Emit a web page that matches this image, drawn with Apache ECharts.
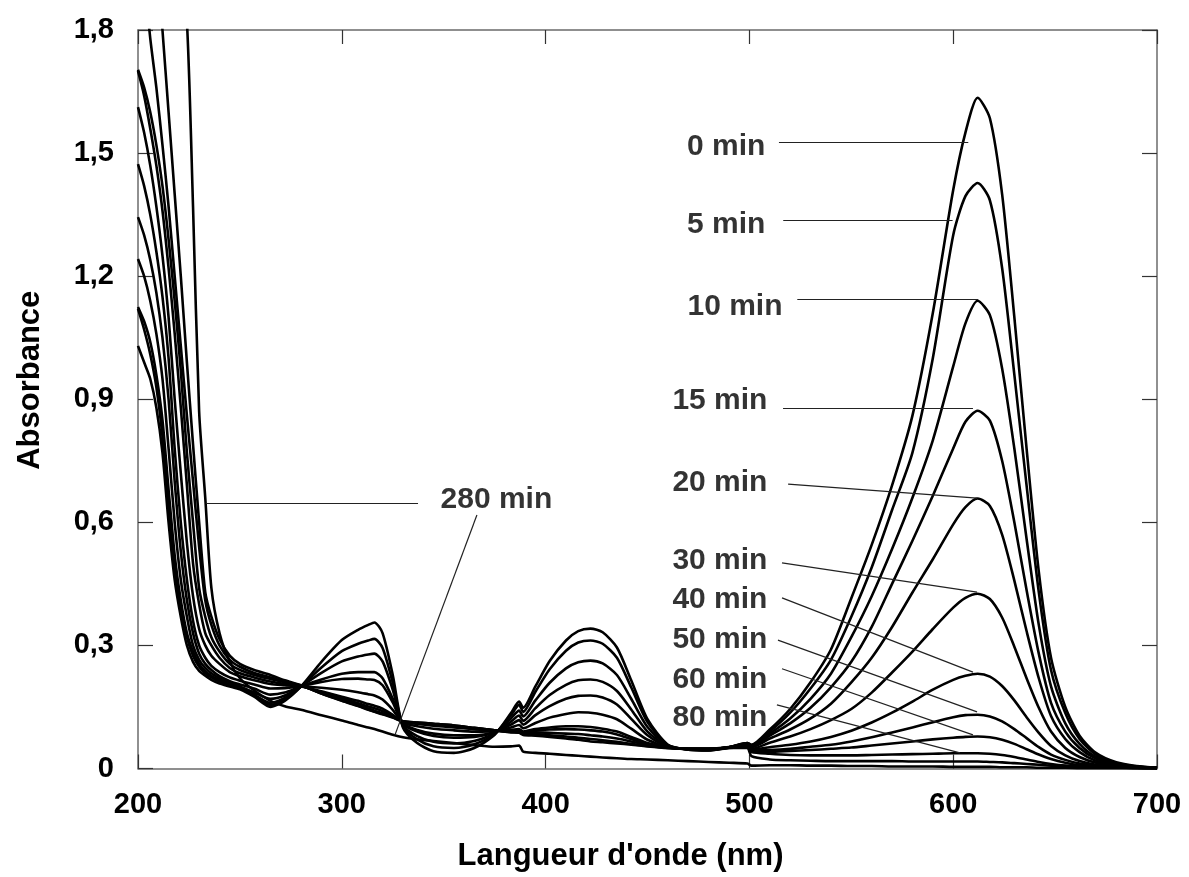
<!DOCTYPE html>
<html>
<head>
<meta charset="utf-8">
<script src="https://cdn.jsdelivr.net/npm/echarts@6.0.0/dist/echarts.min.js"></script>
<style>
  html, body { margin: 0; padding: 0; background: #ffffff; }
  #chart { width: 1189px; height: 877px; }
</style>
</head>
<body>
<div id="chart"></div>
<script>
// longueurs d'onde communes (nm)
const wavelengths = [
  200, 203, 206, 209, 212, 215, 218, 221, 224, 227,
  230, 233, 236, 240, 245, 250, 257, 265, 272, 280,
  290, 300, 308, 313, 316, 320, 325, 330, 337, 345,
  355, 365, 375, 383, 387, 389, 395, 402, 410, 416,
  422, 428, 435, 442, 450, 460, 470, 480, 490, 499,
  501, 510, 520, 530, 540, 550, 560, 570, 580, 590,
  600, 606, 612, 618, 624, 630, 636, 642, 648, 655,
  662, 670, 680, 690, 700
];

// absorbance lue sur chaque spectre
const abs0min = [
  2.6, 2.4, 2.2, 2.0, 1.8, 1.6, 1.4, 1.2, 0.99, 0.79,
  0.6, 0.43, 0.37, 0.315, 0.275, 0.255, 0.24, 0.228, 0.215, 0.203,
  0.183, 0.165, 0.152, 0.143, 0.138, 0.132, 0.124, 0.115, 0.112, 0.109,
  0.105, 0.099, 0.093, 0.088, 0.087, 0.082, 0.08, 0.077, 0.073, 0.07,
  0.066, 0.064, 0.061, 0.058, 0.054, 0.05, 0.048, 0.048, 0.052, 0.062,
  0.058, 0.095, 0.145, 0.21, 0.29, 0.415, 0.545, 0.69, 0.86, 1.11,
  1.41, 1.55, 1.635, 1.585, 1.40, 1.10, 0.78, 0.48, 0.27, 0.15,
  0.08, 0.038, 0.015, 0.006, 0.002
];
const abs5min = [
  2.1, 1.93, 1.78, 1.66, 1.52, 1.37, 1.2, 1.03, 0.86, 0.7,
  0.54, 0.41, 0.35, 0.3, 0.265, 0.248, 0.233, 0.222, 0.212, 0.202,
  0.183, 0.166, 0.153, 0.144, 0.139, 0.133, 0.125, 0.115, 0.112, 0.109,
  0.105, 0.099, 0.093, 0.089, 0.088, 0.084, 0.084, 0.081, 0.078, 0.075,
  0.072, 0.069, 0.065, 0.06, 0.055, 0.05, 0.048, 0.048, 0.052, 0.062,
  0.057, 0.09, 0.136, 0.195, 0.265, 0.37, 0.49, 0.63, 0.77, 1.0,
  1.30, 1.395, 1.427, 1.385, 1.22, 0.96, 0.69, 0.43, 0.24, 0.135,
  0.072, 0.034, 0.013, 0.005, 0.002
];
const abs10min = [
  1.703, 1.66, 1.6, 1.52, 1.42, 1.29, 1.14, 0.97, 0.77, 0.6,
  0.44, 0.37, 0.32, 0.285, 0.255, 0.24, 0.228, 0.218, 0.21, 0.202,
  0.184, 0.167, 0.155, 0.146, 0.141, 0.135, 0.126, 0.115, 0.111, 0.108,
  0.104, 0.098, 0.093, 0.09, 0.091, 0.086, 0.088, 0.087, 0.085, 0.084,
  0.081, 0.078, 0.073, 0.066, 0.057, 0.05, 0.048, 0.048, 0.052, 0.061,
  0.056, 0.085, 0.122, 0.17, 0.231, 0.32, 0.42, 0.535, 0.66, 0.8,
  0.98, 1.085, 1.14, 1.105, 0.975, 0.78, 0.56, 0.35, 0.2, 0.11,
  0.06, 0.028, 0.011, 0.004, 0.002
];
const abs15min = [
  1.70, 1.64, 1.56, 1.47, 1.36, 1.22, 1.06, 0.88, 0.69, 0.5,
  0.4, 0.33, 0.3, 0.27, 0.245, 0.232, 0.222, 0.212, 0.206, 0.201,
  0.186, 0.171, 0.159, 0.151, 0.147, 0.14, 0.128, 0.114, 0.11, 0.106,
  0.102, 0.097, 0.093, 0.092, 0.094, 0.088, 0.093, 0.095, 0.096, 0.095,
  0.093, 0.09, 0.083, 0.072, 0.06, 0.051, 0.048, 0.048, 0.052, 0.06,
  0.054, 0.08, 0.11, 0.148, 0.198, 0.26, 0.345, 0.45, 0.555, 0.665,
  0.78, 0.845, 0.872, 0.848, 0.75, 0.6, 0.435, 0.28, 0.16, 0.09,
  0.05, 0.024, 0.01, 0.004, 0.002
];
const abs20min = [
  1.612, 1.55, 1.47, 1.37, 1.25, 1.1, 0.9, 0.72, 0.55, 0.42,
  0.34, 0.3, 0.275, 0.255, 0.235, 0.225, 0.215, 0.206, 0.203, 0.2,
  0.188, 0.175, 0.165, 0.157, 0.153, 0.146, 0.131, 0.114, 0.109, 0.104,
  0.1, 0.096, 0.092, 0.094, 0.096, 0.09, 0.096, 0.1, 0.103, 0.103,
  0.101, 0.097, 0.09, 0.077, 0.062, 0.051, 0.048, 0.048, 0.052, 0.059,
  0.052, 0.073, 0.095, 0.122, 0.158, 0.21, 0.27, 0.345, 0.429, 0.51,
  0.595, 0.637, 0.658, 0.64, 0.57, 0.458, 0.335, 0.22, 0.128, 0.072,
  0.04, 0.019, 0.008, 0.003, 0.002
];
const abs30min = [
  1.473, 1.42, 1.35, 1.26, 1.15, 1.0, 0.78, 0.6, 0.46, 0.36,
  0.3, 0.27, 0.25, 0.235, 0.222, 0.214, 0.205, 0.195, 0.196, 0.2,
  0.197, 0.192, 0.186, 0.181, 0.178, 0.168, 0.143, 0.112, 0.103, 0.097,
  0.093, 0.09, 0.091, 0.1, 0.106, 0.098, 0.111, 0.124, 0.133, 0.137,
  0.136, 0.131, 0.12, 0.097, 0.07, 0.052, 0.048, 0.047, 0.051, 0.057,
  0.048, 0.063, 0.078, 0.096, 0.118, 0.145, 0.185, 0.234, 0.285, 0.34,
  0.392, 0.416, 0.426, 0.413, 0.368, 0.297, 0.22, 0.148, 0.09, 0.05,
  0.028, 0.014, 0.006, 0.003, 0.002
];
const abs40min = [
  1.344, 1.3, 1.24, 1.16, 1.05, 0.9, 0.7, 0.53, 0.41, 0.33,
  0.28, 0.255, 0.24, 0.225, 0.213, 0.205, 0.195, 0.18, 0.185, 0.2,
  0.211, 0.218, 0.219, 0.217, 0.216, 0.203, 0.161, 0.11, 0.094, 0.085,
  0.081, 0.081, 0.089, 0.107, 0.118, 0.107, 0.13, 0.152, 0.17, 0.177,
  0.178, 0.173, 0.156, 0.121, 0.081, 0.053, 0.047, 0.046, 0.051, 0.056,
  0.046, 0.052, 0.058, 0.066, 0.077, 0.092, 0.112, 0.136, 0.163, 0.192,
  0.216, 0.226, 0.231, 0.224, 0.201, 0.166, 0.125, 0.087, 0.055, 0.032,
  0.018, 0.009, 0.004, 0.002, 0.001
];
const abs50min = [
  1.242, 1.2, 1.14, 1.06, 0.95, 0.78, 0.6, 0.46, 0.37, 0.3,
  0.265, 0.245, 0.232, 0.22, 0.21, 0.2, 0.185, 0.17, 0.178, 0.2,
  0.217, 0.231, 0.235, 0.235, 0.235, 0.22, 0.17, 0.108, 0.09, 0.079,
  0.075, 0.077, 0.088, 0.114, 0.129, 0.116, 0.147, 0.179, 0.204, 0.215,
  0.217, 0.211, 0.189, 0.144, 0.09, 0.054, 0.047, 0.046, 0.051, 0.055,
  0.044, 0.045, 0.048, 0.053, 0.058, 0.066, 0.076, 0.088, 0.1, 0.113,
  0.125, 0.13, 0.131, 0.127, 0.115, 0.096, 0.074, 0.052, 0.034, 0.021,
  0.012, 0.007, 0.003, 0.002, 0.001
];
const abs60min = [
  1.125, 1.09, 1.04, 0.96, 0.85, 0.68, 0.52, 0.41, 0.33, 0.285,
  0.255, 0.237, 0.226, 0.215, 0.205, 0.198, 0.18, 0.16, 0.172, 0.2,
  0.233, 0.261, 0.273, 0.278, 0.28, 0.261, 0.192, 0.105, 0.079, 0.065,
  0.061, 0.067, 0.086, 0.122, 0.141, 0.127, 0.166, 0.209, 0.244, 0.259,
  0.263, 0.256, 0.228, 0.17, 0.101, 0.056, 0.047, 0.045, 0.051, 0.054,
  0.042, 0.041, 0.043, 0.045, 0.048, 0.051, 0.056, 0.061, 0.066, 0.071,
  0.075, 0.077, 0.078, 0.076, 0.07, 0.06, 0.047, 0.034, 0.023, 0.014,
  0.008, 0.005, 0.003, 0.002, 0.001
];
const abs80min = [
  1.12, 1.07, 1.01, 0.93, 0.81, 0.64, 0.49, 0.39, 0.32, 0.275,
  0.248, 0.232, 0.222, 0.212, 0.203, 0.196, 0.177, 0.155, 0.168, 0.2,
  0.246, 0.286, 0.304, 0.312, 0.316, 0.294, 0.209, 0.103, 0.071, 0.054,
  0.05, 0.059, 0.084, 0.13, 0.155, 0.138, 0.187, 0.242, 0.287, 0.307,
  0.312, 0.304, 0.27, 0.198, 0.113, 0.057, 0.046, 0.044, 0.05, 0.052,
  0.04, 0.036, 0.033, 0.032, 0.032, 0.032, 0.033, 0.034, 0.035, 0.036,
  0.037, 0.037, 0.037, 0.036, 0.033, 0.028, 0.022, 0.016, 0.011, 0.007,
  0.005, 0.003, 0.002, 0.001, 0.001
];
// spectre sans étiquette, entre 80 et 280 min
const absUnlabeled = [
  1.03, 0.99, 0.95, 0.88, 0.77, 0.6, 0.46, 0.37, 0.3, 0.26,
  0.238, 0.226, 0.216, 0.207, 0.2, 0.193, 0.175, 0.15, 0.165, 0.2,
  0.26, 0.313, 0.338, 0.35, 0.356, 0.33, 0.228, 0.1, 0.062, 0.042,
  0.038, 0.05, 0.082, 0.135, 0.163, 0.148, 0.2, 0.262, 0.312, 0.335,
  0.341, 0.332, 0.295, 0.215, 0.12, 0.058, 0.046, 0.044, 0.05, 0.05,
  0.03, 0.022, 0.02, 0.019, 0.018, 0.018, 0.018, 0.018, 0.017, 0.017,
  0.017, 0.017, 0.017, 0.016, 0.015, 0.013, 0.011, 0.009, 0.007, 0.006,
  0.005, 0.004, 0.003, 0.002, 0.001
];
const abs280min = [
  3.0, 2.8, 2.6, 2.45, 2.3, 2.15, 2.02, 1.92, 1.82, 1.37,
  0.87, 0.66, 0.44, 0.33, 0.26, 0.22, 0.19, 0.165, 0.152, 0.143,
  0.13, 0.117, 0.106, 0.1, 0.096, 0.09, 0.082, 0.076, 0.071, 0.067,
  0.062, 0.057, 0.053, 0.054, 0.056, 0.041, 0.038, 0.036, 0.033, 0.031,
  0.029, 0.027, 0.025, 0.023, 0.022, 0.02, 0.018, 0.016, 0.014, 0.012,
  0.007, 0.008, 0.008, 0.007, 0.007, 0.006, 0.006, 0.005, 0.005, 0.005,
  0.004, 0.004, 0.004, 0.004, 0.003, 0.003, 0.003, 0.002, 0.002, 0.002,
  0.001, 0.001, 0.001, 0, 0
];

const xTicks = [200, 300, 400, 500, 600, 700];
const yTicks = [0, 0.3, 0.6, 0.9, 1.2, 1.5, 1.8];

// étiquettes des temps (bord droit du texte, en coordonnées des données)
const timeLabels = ['0 min', '5 min', '10 min', '15 min', '20 min', '30 min', '40 min', '50 min', '60 min', '80 min'];
const timeLabelAnchors = [
  [508.1, 1.515], [508.1, 1.325], [516.5, 1.126], [509.1, 0.896], [509.1, 0.696],
  [509.1, 0.506], [509.1, 0.411], [509.1, 0.313], [509.1, 0.216], [509.1, 0.123]
];
const leaderStarts = [
  [514.5, 1.527], [516.6, 1.337], [523.5, 1.144], [516.5, 0.879], [519, 0.693],
  [516, 0.501], [516, 0.416], [514, 0.313], [516, 0.243], [513.5, 0.155]
];
const leaderEnds = [
  [607.4, 1.527], [599.7, 1.337], [612.3, 1.144], [609.7, 0.879], [611.7, 0.659],
  [611.7, 0.430], [609.7, 0.235], [611.7, 0.138], [609.7, 0.082], [603.3, 0.038]
];
const lateLabel = '280 min';
const lateLabelAnchor = [348.2, 0.654];
const lateLeaders = [
  [[233.4, 0.647], [337.4, 0.647]],
  [[366.3, 0.618], [326.1, 0.082]]
];

const FONT = 'Liberation Sans';
const AXIS_GRAY = '#6b6b6b';

const curves = [
  ['0 min', abs0min], ['5 min', abs5min], ['10 min', abs10min], ['15 min', abs15min],
  ['20 min', abs20min], ['30 min', abs30min], ['40 min', abs40min], ['50 min', abs50min],
  ['60 min', abs60min], ['80 min', abs80min], ['sans étiquette', absUnlabeled], ['280 min', abs280min]
];

const chart = echarts.init(document.getElementById('chart'), null, { renderer: 'canvas' });

const spectraSeries = curves.map(([name, values]) => ({
  name: name,
  type: 'line',
  data: wavelengths.map((w, i) => [w, values[i]]),
  symbol: 'none',
  smooth: 0.25,
  clip: true,
  silent: true,
  lineStyle: { color: '#000000', width: 2.6, join: 'round' }
}));

const leaderPairs = leaderStarts.map((s, i) => [{ coord: s }, { coord: leaderEnds[i] }])
  .concat(lateLeaders.map(p => [{ coord: p[0] }, { coord: p[1] }]));

const labelSeries = {
  name: 'étiquettes',
  type: 'scatter',
  symbolSize: 1,
  itemStyle: { color: 'rgba(0,0,0,0)' },
  silent: true,
  data: timeLabels.map((t, i) => ({
    value: timeLabelAnchors[i],
    label: { position: 'left', formatter: t }
  })).concat([{
    value: lateLabelAnchor,
    label: { position: 'right', formatter: lateLabel }
  }]),
  label: {
    show: true,
    distance: 0,
    color: '#000000',
    fontFamily: FONT,
    fontWeight: 'bold',
    fontSize: 30
  },
  markLine: {
    silent: true,
    symbol: ['none', 'none'],
    label: { show: false },
    lineStyle: { color: '#222222', width: 1.2, type: 'solid' },
    data: leaderPairs
  }
};

const tickFormatter = v => (v === 0 ? '0' : v.toFixed(1).replace('.', ','));

const option = {
  animation: false,
  backgroundColor: '#ffffff',
  grid: { left: 138, right: 32, top: 30, bottom: 108.5, containLabel: false },
  xAxis: [
    {
      type: 'value', min: xTicks[0], max: xTicks[xTicks.length - 1], interval: 100,
      position: 'bottom',
      axisLine: { show: true, onZero: false, lineStyle: { color: AXIS_GRAY, width: 1.5 } },
      axisTick: { show: true, inside: true, length: 14, lineStyle: { color: '#333333', width: 1.2 } },
      splitLine: { show: false },
      axisLabel: { color: '#000', fontFamily: FONT, fontWeight: 'bold', fontSize: 29, margin: 22 },
      name: "Langueur d'onde (nm)",
      nameLocation: 'middle',
      nameGap: 72,
      nameTextStyle: { color: '#000', fontFamily: FONT, fontWeight: 'bold', fontSize: 31, padding: [0, 54, 0, 0] }
    },
    {
      type: 'value', min: xTicks[0], max: xTicks[xTicks.length - 1], interval: 100,
      position: 'top',
      axisLine: { show: true, onZero: false, lineStyle: { color: AXIS_GRAY, width: 1.5 } },
      axisTick: { show: true, inside: true, length: 14, lineStyle: { color: '#333333', width: 1.2 } },
      splitLine: { show: false },
      axisLabel: { show: false }
    }
  ],
  yAxis: [
    {
      type: 'value', min: yTicks[0], max: yTicks[yTicks.length - 1], interval: 0.3,
      position: 'left',
      axisLine: { show: true, onZero: false, lineStyle: { color: AXIS_GRAY, width: 1.5 } },
      axisTick: { show: true, inside: true, length: 15, lineStyle: { color: '#333333', width: 1.2 } },
      splitLine: { show: false },
      axisLabel: { color: '#000', fontFamily: FONT, fontWeight: 'bold', fontSize: 29, margin: 24, formatter: tickFormatter },
      name: 'Absorbance',
      nameLocation: 'middle',
      nameGap: 92,
      nameTextStyle: { color: '#000', fontFamily: FONT, fontWeight: 'bold', fontSize: 31, padding: [0, 0, 0, 38] }
    },
    {
      type: 'value', min: yTicks[0], max: yTicks[yTicks.length - 1], interval: 0.3,
      position: 'right',
      axisLine: { show: true, onZero: false, lineStyle: { color: AXIS_GRAY, width: 1.5 } },
      axisTick: { show: true, inside: true, length: 15, lineStyle: { color: '#333333', width: 1.2 } },
      splitLine: { show: false },
      axisLabel: { show: false }
    }
  ],
  series: spectraSeries.concat([labelSeries])
};

chart.setOption(option);
</script>
</body>
</html>
